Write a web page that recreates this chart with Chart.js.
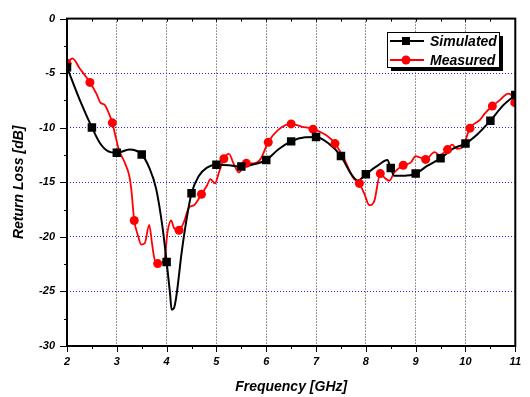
<!DOCTYPE html>
<html>
<head>
<meta charset="utf-8">
<script src="https://cdn.jsdelivr.net/npm/chart.js@4"></script>
<style>
  html, body { margin: 0; padding: 0; background: #fff; }
  #wrap { width: 530px; height: 397px; }
</style>
</head>
<body>
<div id="wrap"><canvas id="myChart" width="530" height="397"></canvas></div>
<script>
// Simulated curve (GHz, dB)
const simX = [2.0, 2.26, 2.5, 2.66, 2.82, 3.0, 3.25, 3.5, 3.65, 3.79, 3.92, 4.0, 4.07, 4.1, 4.15, 4.2, 4.3, 4.4, 4.5, 4.65, 4.81, 5.0, 5.25, 5.5, 5.75, 6.0, 6.24, 6.5, 6.78, 7.0, 7.24, 7.5, 7.7, 7.84, 8.0, 8.23, 8.43, 8.5, 8.57, 8.77, 9.0, 9.23, 9.5, 9.76, 10.0, 10.23, 10.5, 10.76, 11.0];
const simY = [-4.46, -7.5, -9.97, -11.4, -12.15, -12.3, -12.0, -12.45, -13.65, -15.6, -19.2, -22.3, -25.25, -26.67, -26.5, -25.3, -21.5, -18.4, -16.0, -14.4, -13.65, -13.4, -13.44, -13.56, -13.35, -12.96, -12.0, -11.25, -10.88, -10.85, -11.4, -12.6, -14.2, -14.85, -14.26, -13.5, -12.96, -13.7, -14.4, -14.4, -14.2, -13.5, -12.8, -11.9, -11.45, -10.64, -9.35, -7.93, -7.0];
const simMarkX = [2.0, 2.5, 3.0, 3.5, 4.0, 4.5, 5.0, 5.5, 6.0, 6.5, 7.0, 7.5, 8.0, 8.5, 9.0, 9.5, 10.0, 10.5, 11.0];
const simMarkY = [-4.46, -9.97, -12.3, -12.45, -22.3, -16.0, -13.4, -13.56, -12.96, -11.25, -10.85, -12.6, -14.26, -13.7, -14.2, -12.8, -11.45, -9.35, -7.0];

// Measured curve (GHz, dB)
const measX = [2.0, 2.11, 2.26, 2.36, 2.46, 2.59, 2.67, 2.76, 2.84, 2.91, 2.96, 3.04, 3.16, 3.25, 3.29, 3.35, 3.42, 3.49, 3.56, 3.65, 3.71, 3.75, 3.82, 3.95, 4.02, 4.09, 4.15, 4.25, 4.35, 4.45, 4.55, 4.7, 4.81, 4.88, 4.97, 5.05, 5.15, 5.25, 5.35, 5.45, 5.6, 5.75, 5.88, 6.04, 6.24, 6.5, 6.71, 6.94, 7.24, 7.38, 7.57, 7.74, 7.87, 7.97, 8.07, 8.17, 8.29, 8.37, 8.47, 8.57, 8.75, 8.9, 9.0, 9.2, 9.38, 9.48, 9.64, 9.73, 9.83, 9.93, 10.09, 10.29, 10.39, 10.54, 10.69, 10.86, 10.95, 10.99];
const measY = [-4.1, -3.65, -4.6, -5.2, -5.85, -6.87, -7.7, -7.93, -8.68, -9.55, -10.5, -12.0, -13.2, -14.4, -15.6, -18.5, -19.8, -20.7, -20.6, -18.9, -20.7, -21.9, -22.45, -22.2, -19.5, -18.5, -19.2, -19.4, -18.6, -17.3, -17.1, -16.1, -15.3, -14.7, -15.1, -14.1, -12.84, -12.4, -13.35, -14.1, -13.26, -13.26, -12.9, -11.33, -10.2, -9.65, -9.9, -10.13, -10.8, -11.45, -12.9, -14.55, -15.1, -16.07, -17.1, -16.7, -14.2, -14.55, -14.86, -14.1, -13.44, -13.2, -12.6, -12.9, -12.24, -12.5, -12.0, -11.55, -11.93, -11.84, -10.04, -9.28, -8.68, -8.02, -7.47, -6.87, -7.17, -7.7];
const measMarkX = [2.0, 2.46, 2.91, 3.35, 3.82, 4.25, 4.7, 5.15, 5.6, 6.04, 6.5, 6.94, 7.38, 7.87, 8.29, 8.75, 9.2, 9.64, 10.09, 10.54, 10.99];
const measMarkY = [-4.1, -5.85, -9.55, -18.5, -22.45, -19.4, -16.1, -12.84, -13.26, -11.33, -9.65, -10.13, -11.45, -15.1, -14.2, -13.44, -12.9, -12.0, -10.04, -8.02, -7.7];

const seriesNames = ['Simulated', 'Measured'];
const xTicks = [2, 3, 4, 5, 6, 7, 8, 9, 10, 11];
const yTicks = [0, -5, -10, -15, -20, -25, -30];

const pts = (xs, ys) => xs.map((x, i) => ({x: x, y: ys[i]}));
const FONT = '"Liberation Sans", Arial, sans-serif';

// frame, minor ticks and legend box drawn over the chart
const framePlugin = {
  id: 'frame',
  afterDraw(chart) {
    const ctx = chart.ctx;
    const a = chart.chartArea;
    const xs = chart.scales.x, ys = chart.scales.y;
    ctx.save();
    ctx.strokeStyle = '#000';
    ctx.lineWidth = 1;
    // x ticks
    for (let v = 2; v <= 11.001; v += 0.5) {
      const px = Math.round(xs.getPixelForValue(v)) + 0.5;
      const major = Math.abs(v - Math.round(v)) < 0.01;
      ctx.beginPath();
      ctx.moveTo(px, a.bottom);
      ctx.lineTo(px, a.bottom + (major ? 6 : 3));
      ctx.moveTo(px, a.top);
      ctx.lineTo(px, a.top + 3);
      ctx.stroke();
    }
    // y ticks
    for (let v = 0; v >= -30.001; v -= 2.5) {
      const py = Math.round(ys.getPixelForValue(v)) + 0.5;
      const major = Math.abs(v % 5) < 0.01;
      ctx.beginPath();
      ctx.moveTo(a.left, py);
      ctx.lineTo(a.left - (major ? 7 : 3), py);
      ctx.stroke();
    }
    // frame
    ctx.lineWidth = 2;
    ctx.strokeRect(a.left, a.top, a.right - a.left, a.bottom - a.top);

    // legend
    const lx = 387, ly = 32, lw = 112, lh = 35;
    ctx.fillStyle = '#000';
    ctx.fillRect(lx + 4, ly + 4, lw, lh);
    ctx.fillStyle = '#fff';
    ctx.fillRect(lx, ly, lw, lh);
    ctx.lineWidth = 1;
    ctx.strokeRect(lx + 0.5, ly + 0.5, lw, lh);
    const cols = ['#000', '#ff0000'];
    const rows = [41, 60];
    ctx.font = 'italic bold 14px ' + FONT;
    ctx.textBaseline = 'middle';
    ctx.textAlign = 'left';
    rows.forEach((ry, i) => {
      ctx.strokeStyle = cols[i];
      ctx.fillStyle = cols[i];
      ctx.lineWidth = 2;
      ctx.beginPath();
      ctx.moveTo(390, ry);
      ctx.lineTo(424, ry);
      ctx.stroke();
      if (i === 0) {
        ctx.fillRect(402, ry - 4, 8, 8);
      } else {
        ctx.beginPath();
        ctx.arc(406, ry, 4.5, 0, Math.PI * 2);
        ctx.fill();
      }
      ctx.fillStyle = '#000';
      ctx.fillText(seriesNames[i], 430, ry + 1);
    });
    ctx.restore();
  }
};

const ctx = document.getElementById('myChart').getContext('2d');
new Chart(ctx, {
  type: 'line',
  data: {
    datasets: [
      {
        label: seriesNames[0] + ' markers',
        data: pts(simMarkX, simMarkY),
        showLine: false,
        pointStyle: 'rect',
        pointRadius: 6,
        backgroundColor: '#000',
        borderColor: '#000',
        borderWidth: 0
      },
      {
        label: seriesNames[1] + ' markers',
        data: pts(measMarkX, measMarkY),
        showLine: false,
        pointStyle: 'circle',
        pointRadius: 4.5,
        backgroundColor: '#ff0000',
        borderColor: '#ff0000',
        borderWidth: 0
      },
      {
        label: seriesNames[0],
        data: pts(simX, simY),
        borderColor: '#000',
        borderWidth: 2,
        pointRadius: 0,
        cubicInterpolationMode: 'monotone',
        fill: false
      },
      {
        label: seriesNames[1],
        data: pts(measX, measY),
        borderColor: '#ff0000',
        borderWidth: 1.8,
        pointRadius: 0,
        cubicInterpolationMode: 'monotone',
        fill: false
      }
    ]
  },
  options: {
    responsive: false,
    animation: false,
    events: [],
    layout: { padding: { top: 14, right: 11, bottom: 0, left: 0 } },
    plugins: { legend: { display: false }, tooltip: { enabled: false } },
    scales: {
      x: {
        type: 'linear',
        min: 2,
        max: 11,
        afterFit: s => { s.height = 51; },
        afterBuildTicks: s => { s.ticks = xTicks.map(v => ({value: v})); },
        ticks: {
          color: '#000',
          padding: 9,
          maxRotation: 0,
          autoSkip: false,
          font: { family: FONT, size: 11, style: 'italic', weight: 'bold' }
        },
        grid: {
          drawTicks: false,
          lineWidth: 1,
          color: c => (c.tick && (c.tick.value === 2 || c.tick.value === 11)) ? 'rgba(0,0,0,0)' : '#333'
        },
        border: { display: false, dash: [1, 2] },
        title: {
          display: true,
          text: 'Frequency [GHz]',
          color: '#000',
          padding: { top: 0, bottom: 1 },
          font: { family: FONT, size: 14, style: 'italic', weight: 'bold' }
        }
      },
      y: {
        type: 'linear',
        min: -30,
        max: 0,
        afterFit: s => { s.width = 67; },
        afterBuildTicks: s => { s.ticks = yTicks.map(v => ({value: v})); },
        ticks: {
          color: '#000',
          padding: 12,
          autoSkip: false,
          font: { family: FONT, size: 11, style: 'italic', weight: 'bold' }
        },
        grid: {
          drawTicks: false,
          lineWidth: 1,
          color: c => (c.tick && (c.tick.value === 0 || c.tick.value === -30)) ? 'rgba(0,0,0,0)' : '#2020ff'
        },
        border: { display: false, dash: [1, 2] },
        title: {
          display: true,
          text: 'Return Loss [dB]',
          color: '#000',
          padding: { top: 11, bottom: 0 },
          font: { family: FONT, size: 14, style: 'italic', weight: 'bold' }
        }
      }
    }
  },
  plugins: [framePlugin]
});
</script>
</body>
</html>
